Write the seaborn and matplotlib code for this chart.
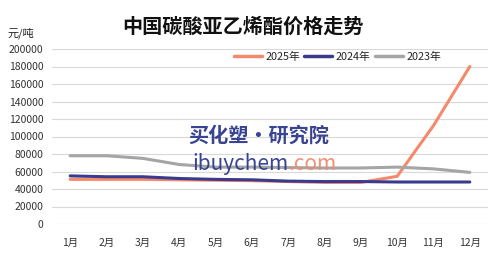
import matplotlib
matplotlib.use("Agg")
import matplotlib.pyplot as plt
import seaborn as sns
import pandas as pd

months = ["1月", "2月", "3月", "4月", "5月", "6月", "7月", "8月", "9月", "10月", "11月", "12月"]
y2025 = [51000, 51000, 51000, 50500, 50000, 49500, 48500, 47500, 47500, 54500, 112500, 180000]
y2024 = [55000, 54000, 54000, 52000, 51000, 50500, 49000, 48500, 48500, 48000, 48000, 48000]
y2023 = [78000, 78000, 75000, 68000, 65000, 65000, 64500, 64000, 64000, 65000, 63000, 59000]
series_names = ["2025年", "2024年", "2023年"]
colors = ["#F4896B", "#3B3B8E", "#A5A5A5"]
yticks = list(range(0, 200001, 20000))

sns.set_theme(style="white")
plt.rcParams["font.family"] = ["Noto Sans CJK SC", "DejaVu Sans"]

df = pd.DataFrame({"月": months * 3,
                   "价格": y2025 + y2024 + y2023,
                   "年份": [series_names[0]] * 12 + [series_names[1]] * 12 + [series_names[2]] * 12})

fig = plt.figure(figsize=(4.95, 2.77), dpi=100)
ax = fig.add_axes([52 / 495, 1 - 224 / 277, (488 - 52) / 495, (224 - 49) / 277])

sns.lineplot(data=df, x="月", y="价格", hue="年份", palette=colors, linewidth=2.2,
             sort=False, ax=ax, legend=True)

ax.set_ylim(0, 200000)
ax.set_xlim(-0.5, 11.5)
ax.set_yticks(yticks)
ax.set_yticklabels([str(v) for v in yticks], fontsize=7.5, color="#333333")
ax.tick_params(axis="x", labelsize=7.5, colors="#333333", pad=10, length=0)
ax.tick_params(axis="y", length=0, pad=6)
ax.grid(axis="y", color="#D9D9D9", linewidth=0.8)
ax.set_axisbelow(True)
for s in ax.spines.values():
    s.set_visible(False)
ax.set_xlabel("")
ax.set_ylabel("")

leg = ax.legend(title=None, loc="upper right", bbox_to_anchor=(0.915, 1.04), ncol=3, frameon=False,
                fontsize=7.8, handlelength=2.6, handletextpad=0.3, columnspacing=0.4)
for line in leg.get_lines():
    line.set_linewidth(2.5)

fig.text(243 / 495, 1 - 26 / 277, "中国碳酸亚乙烯酯价格走势", ha="center", va="center",
         fontsize=14.5, fontweight="bold", color="#111111")
fig.text(8 / 495, 1 - 33 / 277, "元/吨", ha="left", va="center", fontsize=8, color="#222222")

ax.text(0.475, 0.51, "买化塑·研究院", transform=ax.transAxes, ha="center", va="center",
        fontsize=14.5, fontweight="bold", style="italic", color="#2E3A8C", alpha=0.95)
ax.text(0.542, 0.345, "ibuychem", transform=ax.transAxes, ha="right", va="center",
        fontsize=15, color="#2E3A8C", alpha=0.95)
ax.text(0.542, 0.345, ".com", transform=ax.transAxes, ha="left", va="center",
        fontsize=15, color="#F08A6C", alpha=0.95)

fig.savefig("out.png", dpi=100)
